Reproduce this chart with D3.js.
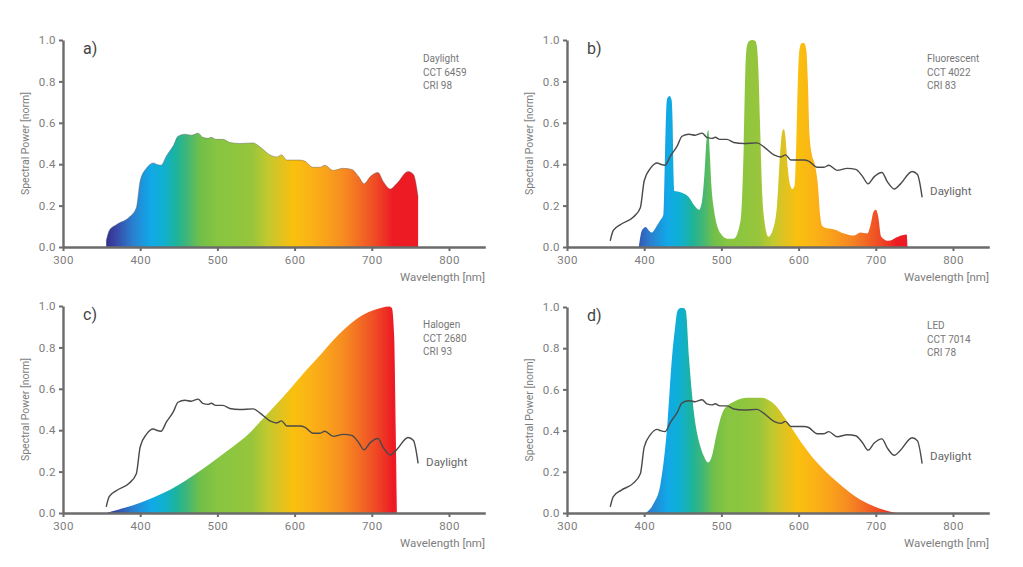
<!DOCTYPE html>
<html><head><meta charset="utf-8">
<script src="https://cdn.jsdelivr.net/npm/d3@7/dist/d3.min.js"></script>
<style>
body{margin:0;background:#fff;}
svg{display:block;font-family:Roboto,"Liberation Sans",sans-serif;}
</style></head><body>
<svg id="c" width="1023" height="567"></svg>
<script>
// ---- data ----
const xTicks = [300, 400, 500, 600, 700, 800];
const yTicks = [0, 0.2, 0.4, 0.6, 0.8, 1.0];

const daylightNm = [356,360,370,386,395,400,408,417,421,427,434,443,449,458,466,475,481,488,492,498,507,516,529,546,555,568,577,583,590,607,613,624,633,639,650,663,674,683,690,698,708,715,724,732,747,754,760];
const daylightVal = [0.03,0.08,0.11,0.145,0.19,0.32,0.38,0.406,0.40,0.395,0.44,0.49,0.535,0.545,0.54,0.55,0.53,0.525,0.53,0.52,0.52,0.505,0.50,0.503,0.484,0.445,0.435,0.445,0.42,0.42,0.415,0.385,0.385,0.395,0.37,0.38,0.375,0.34,0.305,0.34,0.36,0.315,0.28,0.305,0.365,0.35,0.24];

const fluorNm = [393,397,402,406,410,416,421,425,427,428.5,430,433,435.5,436.8,437.8,439,447,458,465,471,475,478,481,483,485,487,490,499,508,516,525,529,531,533,536,540,544,546,548,550,553,556,561,568,572,576,579,581,583,586,589,592,595,597,599,601,604,607,610,612,614,617,621,625,628,631,637,646,659,672,680,689,694,697,700,703,707,716,729,740,741];
const fluorVal = [0,0.08,0.097,0.08,0.07,0.1,0.13,0.16,0.45,0.66,0.72,0.73,0.71,0.6,0.38,0.27,0.265,0.24,0.2,0.18,0.225,0.35,0.53,0.565,0.45,0.3,0.19,0.065,0.04,0.04,0.13,0.5,0.85,0.97,0.995,1.0,0.995,0.97,0.85,0.6,0.25,0.12,0.05,0.1,0.2,0.45,0.56,0.57,0.53,0.38,0.3,0.28,0.3,0.5,0.8,0.95,0.985,0.985,0.95,0.8,0.55,0.45,0.4,0.3,0.15,0.1,0.09,0.085,0.065,0.055,0.07,0.065,0.12,0.17,0.18,0.15,0.05,0.03,0.05,0.06,0];

const halogenNm = [358,370,380,400,420,440,460,480,500,520,540,555,570,585,600,615,630,650,665,676,690,702,714,722,726,729,731,732.5];
const halogenVal = [0.002,0.015,0.025,0.05,0.08,0.115,0.16,0.21,0.265,0.32,0.38,0.44,0.5,0.56,0.625,0.69,0.75,0.835,0.89,0.925,0.96,0.98,0.993,0.997,0.99,0.85,0.4,0];

const ledNm = [402,412,421,430,436,440,443,447,451,454,458,464,473,478,483,488,493,503,516,534,551,568,586,603,625,647,668,690,711,727];
const ledVal = [0,0.045,0.14,0.43,0.755,0.9,0.98,0.995,0.995,0.98,0.755,0.5,0.32,0.27,0.245,0.28,0.37,0.5,0.54,0.56,0.56,0.53,0.44,0.345,0.24,0.16,0.095,0.045,0.015,0];

// colour stops of the spectral fill (two variants: a/c and b/d)
const spectrumCol = ["#2e2f8c","#3a3fa0","#2a7fd0","#11a8e8","#0fb0d0","#1db39a","#3fb679","#70bf4a","#88c541","#8cc63f","#98c53c","#c0c92e","#dcc322","#f9c00f","#fbb316","#f9a11b","#f68a20","#f26b24","#ef4a25","#ed1c24","#ed1c24"];
const spectrumNmA = [355,365,390,413,430,447,460,477,500,520,545,564,580,598,620,642,665,685,705,727,770];
const spectrumNmB = [370,383,408,430,447,462,475,490,508,525,548,566,580,598,620,642,665,685,705,727,770];

const panels = [
  {id:"a", label:"a)", legend:["Daylight","CCT 6459","CRI 98"], nm:daylightNm, val:daylightVal, ref:false, ox:63, top:40, bottom:247, stops:spectrumNmA, lblDy:0},
  {id:"b", label:"b)", legend:["Fluorescent","CCT 4022","CRI 83"], nm:fluorNm, val:fluorVal, ref:true, ox:567, top:40, bottom:247, stops:spectrumNmB, lblDy:-2},
  {id:"c", label:"c)", legend:["Halogen","CCT 2680","CRI 93"], nm:halogenNm, val:halogenVal, ref:true, ox:63, top:306, bottom:513, stops:spectrumNmA, lblDy:3},
  {id:"d", label:"d)", legend:["LED","CCT 7014","CRI 78"], nm:ledNm, val:ledVal, ref:true, ox:567, top:307, bottom:513, stops:spectrumNmB, lblDy:-4}
];

// ---- drawing ----
const svg = d3.select("#c");
const defs = svg.append("defs");
const pxPerNm = 0.772;
const axisCol = "#6b6b6b", textCol = "#7d7d7d";

panels.forEach(p => {
  const x = d3.scaleLinear().domain([300, 847]).range([p.ox, p.ox + 547*pxPerNm]);
  const y = d3.scaleLinear().domain([0, 1]).range([p.bottom, p.top]);
  const g = svg.append("g");

  const st = p.stops, s0 = st[0], s1 = st[st.length-1];
  const grad = defs.append("linearGradient").attr("id","grad"+p.id)
    .attr("gradientUnits","userSpaceOnUse")
    .attr("x1", x(s0)).attr("x2", x(s1)).attr("y1",0).attr("y2",0);
  st.forEach((w,i)=>grad.append("stop").attr("offset",(w-s0)/(s1-s0)).attr("stop-color",spectrumCol[i]));

  const pts = p.nm.map((w,i)=>[w,p.val[i]]);
  const area = d3.area().x(d=>x(d[0])).y0(y(0)).y1(d=>y(d[1])).curve(d3.curveMonotoneX);
  g.append("path").attr("d", area(pts)).attr("fill","url(#grad"+p.id+")");

  if (p.id === "a") {
    const line = d3.line().x(d=>x(d[0])).y(d=>y(d[1])).curve(d3.curveMonotoneX);
    g.append("path").attr("d", line(pts)).attr("fill","none").attr("stroke","#555").attr("stroke-width",0.8).attr("stroke-opacity",0.5);
  }
  if (p.ref) {
    const dl = daylightNm.map((w,i)=>[w,daylightVal[i]]);
    const line = d3.line().x(d=>x(d[0])).y(d=>y(d[1])).curve(d3.curveMonotoneX);
    g.append("path").attr("d", line(dl)).attr("fill","none").attr("stroke","#4a4a4a").attr("stroke-width",1.4);
    g.append("text").attr("x", x(daylightNm[daylightNm.length-1]) + 8)
      .attr("y", y(daylightVal[daylightVal.length-1]) + p.lblDy)
      .attr("font-size",11.5).attr("fill","#666").text("Daylight");
  }

  // axes
  const xa = g.append("g").attr("transform",`translate(0,${p.bottom})`)
    .call(d3.axisBottom(x).tickValues(xTicks).tickSize(4).tickSizeOuter(0).tickPadding(5));
  const ya = g.append("g").attr("transform",`translate(${p.ox},0)`)
    .call(d3.axisLeft(y).tickValues(yTicks).tickSize(4).tickSizeOuter(0).tickPadding(3).tickFormat(d3.format(".1f")));
  [xa, ya].forEach(a=>{
    a.select(".domain").attr("stroke",axisCol).attr("stroke-width",2.4);
    a.selectAll(".tick line").attr("stroke",axisCol).attr("stroke-width",2);
    a.selectAll(".tick text").attr("fill",textCol).attr("font-size",11.5).attr("letter-spacing",0.4).attr("font-family","Roboto, sans-serif");
  });

  g.append("text").attr("x", p.ox + 422).attr("y", p.bottom + 34).attr("text-anchor","end")
    .attr("font-size",11.5).attr("fill",textCol).text("Wavelength [nm]");
  g.append("text").attr("transform",`translate(${p.ox-34},${(p.top+p.bottom)/2}) rotate(-90)`)
    .attr("text-anchor","middle").attr("font-size",10.5).attr("fill",textCol).text("Spectral Power [norm]");
  g.append("text").attr("x", p.ox + 20).attr("y", p.top + 14).attr("font-size",16).attr("fill","#444").text(p.label);
  p.legend.forEach((t,i)=>g.append("text").attr("x", p.ox + 360).attr("y", p.top + 22 + i*13.5)
    .attr("font-size",10).attr("fill","#777").text(t));
});
</script>
</body></html>
